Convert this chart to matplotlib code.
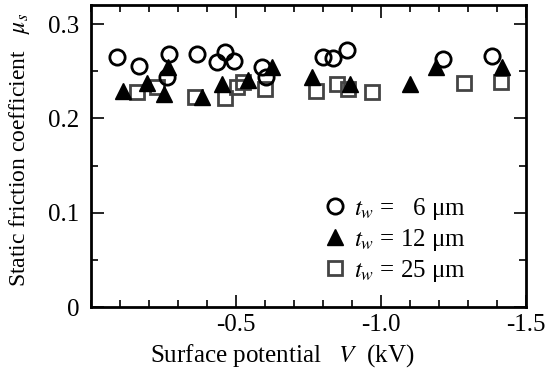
import matplotlib.pyplot as plt
from matplotlib.ticker import MultipleLocator

plt.rcParams["font.family"] = "Liberation Serif"
plt.rcParams["mathtext.fontset"] = "stix"

# static friction coefficient vs. surface potential for three film thicknesses
v_6 = [-0.090, -0.166, -0.269, -0.262, -0.366, -0.434, -0.462, -0.493,
       -0.590, -0.603, -0.800, -0.834, -0.883, -1.214, -1.383]
mu_6 = [0.265, 0.256, 0.268, 0.244, 0.268, 0.260, 0.270, 0.261,
        0.255, 0.244, 0.265, 0.264, 0.272, 0.263, 0.266]

v_12 = [-0.110, -0.193, -0.252, -0.266, -0.383, -0.452, -0.541, -0.624,
        -0.762, -0.893, -1.100, -1.190, -1.417]
mu_12 = [0.229, 0.238, 0.226, 0.254, 0.223, 0.236, 0.241, 0.254,
         0.244, 0.236, 0.236, 0.255, 0.255]

v_25 = [-0.159, -0.228, -0.359, -0.462, -0.503, -0.524, -0.600, -0.776,
        -0.848, -0.886, -0.969, -1.286, -1.414]
mu_25 = [0.228, 0.233, 0.223, 0.222, 0.233, 0.239, 0.231, 0.229,
         0.236, 0.231, 0.228, 0.238, 0.239]

labels = [r"$t_w$ =   6 μm", r"$t_w$ = 12 μm", r"$t_w$ = 25 μm"]

fig = plt.figure(figsize=(5.47, 3.70), dpi=100)
ax = fig.add_axes([0.166, 0.170, 0.796, 0.816])

ax.plot(v_25, mu_25, ls="none", marker="s", ms=10.5, mfc="none",
        mec="#444444", mew=2, label=labels[2])
ax.plot(v_12, mu_12, ls="none", marker="^", ms=12, mfc="black",
        mec="black", label=labels[1])
ax.plot(v_6, mu_6, ls="none", marker="o", ms=11, mfc="none",
        mec="black", mew=2, label=labels[0])

ax.set_xlim(0, -1.5)
ax.set_ylim(0, 0.32)
ax.set_xticks([-0.5, -1.0, -1.5])
ax.set_xticklabels(["-0.5", "-1.0", "-1.5"])
ax.set_yticks([0, 0.1, 0.2, 0.3])
ax.set_yticklabels(["0", "0.1", "0.2", "0.3"])
ax.xaxis.set_minor_locator(MultipleLocator(0.1))
ax.yaxis.set_minor_locator(MultipleLocator(0.05))
ax.tick_params(which="both", direction="in", top=True, right=True,
               labelsize=18, width=1.2)
ax.tick_params(which="major", length=9)
ax.tick_params(axis="y", which="major", pad=8)
ax.tick_params(axis="x", which="major", pad=5)
ax.tick_params(which="minor", length=5)
for sp in ax.spines.values():
    sp.set_linewidth(2)

ax.set_xlabel(r"Surface potential   $V$  (kV)", fontsize=18)
ax.xaxis.set_label_coords(0.44, -0.115)
ax.set_ylabel(r"Static friction coefficient   $\mu_s$", fontsize=17)
ax.yaxis.set_label_coords(-0.136, 0.52)

h, l = ax.get_legend_handles_labels()
ax.legend(h[::-1], l[::-1], loc="lower right", bbox_to_anchor=(0.885, 0.045),
          frameon=False, fontsize=18, handletextpad=0.15, labelspacing=0.2,
          handlelength=1.2, borderaxespad=0)

fig.savefig("out.png", dpi=100)
